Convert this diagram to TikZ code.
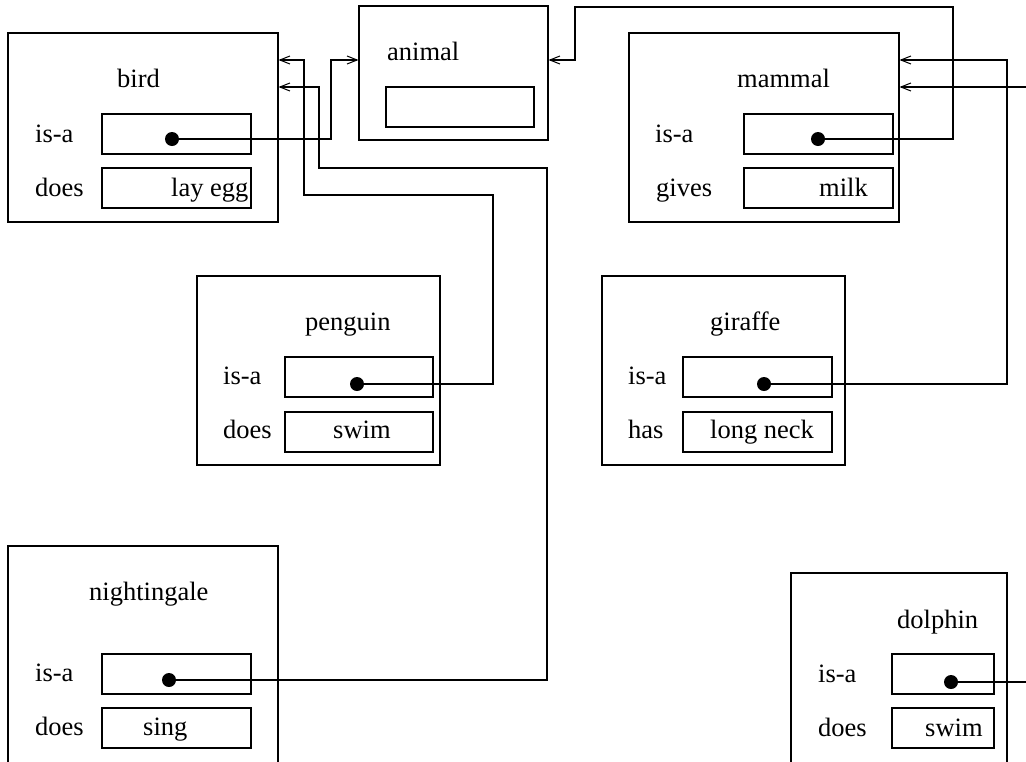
\documentclass[tikz,border=0pt]{standalone}
\usepackage{fontspec}
\setmainfont{Liberation Serif}
\usetikzlibrary{arrows.meta}
\begin{document}
\begin{tikzpicture}[x=1pt,y=-1pt,
  frame/.style={draw,line width=1.2pt,inner sep=0pt,rectangle},
  slot/.style={draw,line width=1.1pt,inner sep=0pt,rectangle},
  lbl/.style={anchor=base west,inner sep=0pt,font=\fontsize{26.5}{30}\selectfont},
  dot/.style={circle,fill,inner sep=0pt,minimum size=14pt},
  link/.style={line width=1.2pt},
  arr/.style={link,-{Straight Barb[length=10pt,width=8pt,line width=1pt]}}]
\useasboundingbox (0,0) rectangle (1026,761);
\clip (0,0) rectangle (1026,761);
% frames
\node[frame,minimum width=270pt,minimum height=189pt] (bird) at (143,127.5) {};
\node[frame,minimum width=189pt,minimum height=134pt] (animal) at (453.5,73) {};
\node[frame,minimum width=270pt,minimum height=189pt] (mammal) at (764,127.5) {};
\node[frame,minimum width=243pt,minimum height=189pt] (penguin) at (318.5,370.5) {};
\node[frame,minimum width=243pt,minimum height=189pt] (giraffe) at (723.5,370.5) {};
\node[frame,minimum width=270pt,minimum height=254pt] (nightingale) at (143,673) {};
\node[frame,minimum width=216pt,minimum height=227pt] (dolphin) at (899,686.5) {};
% slots
\node[slot,minimum width=149pt,minimum height=40pt] (birdisa) at (176.5,134) {};
\node[slot,minimum width=149pt,minimum height=40pt] (birddoes) at (176.5,188) {};
\node[slot,minimum width=148pt,minimum height=40pt] (animalslot) at (460,107) {};
\node[slot,minimum width=149pt,minimum height=40pt] (mammalisa) at (818.5,134) {};
\node[slot,minimum width=149pt,minimum height=40pt] (mammalgives) at (818.5,188) {};
\node[slot,minimum width=148pt,minimum height=40pt] (penguinisa) at (359,377) {};
\node[slot,minimum width=148pt,minimum height=40pt] (penguindoes) at (359,432) {};
\node[slot,minimum width=149pt,minimum height=40pt] (giraffeisa) at (757.5,377) {};
\node[slot,minimum width=149pt,minimum height=40pt] (giraffehas) at (757.5,432) {};
\node[slot,minimum width=149pt,minimum height=40pt] (nightisa) at (176.5,674) {};
\node[slot,minimum width=149pt,minimum height=40pt] (nightdoes) at (176.5,728) {};
\node[slot,minimum width=102pt,minimum height=40pt] (dolphinisa) at (943,674) {};
\node[slot,minimum width=102pt,minimum height=40pt] (dolphindoes) at (943,728) {};
% texts
\node[lbl] (t1) at (117,87) {bird};
\node[lbl] (t2) at (35,142) {is-a};
\node[lbl] (t3) at (35,196) {does};
\node[lbl] (t4) at (171,196) {lay egg};
\node[lbl] (t5) at (387,60) {animal};
\node[lbl] (t6) at (737,87) {mammal};
\node[lbl] (t7) at (655,142) {is-a};
\node[lbl] (t8) at (656,196) {gives};
\node[lbl] (t9) at (819,196) {milk};
\node[lbl] (t10) at (305,330) {penguin};
\node[lbl] (t11) at (223,384) {is-a};
\node[lbl] (t12) at (223,438) {does};
\node[lbl] (t13) at (333,438) {swim};
\node[lbl] (t14) at (710,330) {giraffe};
\node[lbl] (t15) at (628,384) {is-a};
\node[lbl] (t16) at (628,438) {has};
\node[lbl] (t17) at (710,438) {long neck};
\node[lbl] (t18) at (89,600) {nightingale};
\node[lbl] (t19) at (35,681) {is-a};
\node[lbl] (t20) at (35,735) {does};
\node[lbl] (t21) at (143,735) {sing};
\node[lbl] (t22) at (897,628) {dolphin};
\node[lbl] (t23) at (818,682) {is-a};
\node[lbl] (t24) at (818,736) {does};
\node[lbl] (t25) at (925,736) {swim};
% dots
\node[dot] (bdot) at (172,139) {};
\node[dot] (mdot) at (818,139) {};
\node[dot] (pdot) at (357,384) {};
\node[dot] (gdot) at (764,384) {};
\node[dot] (ndot) at (169,680) {};
\node[dot] (ddot) at (951,682) {};
% bend points
\coordinate (b1) at (331,60);
\coordinate (m1) at (953,7);
\coordinate (m2) at (575,60);
\coordinate (p1) at (493,195);
\coordinate (p2) at (304,60);
\coordinate (n1) at (547,168);
\coordinate (n2) at (319,87);
\coordinate (g1) at (1007,60);
\coordinate (d1) at (1045,87);
% connectors
\draw[arr] (bdot.center) -| (b1) -- (animal.west |- b1);
\draw[arr] (mdot.center) -| (m1) -| (m2) -- (animal.east |- m2);
\draw[arr] (pdot.center) -| (p1) -| (p2) -- (bird.east |- p2);
\draw[arr] (ndot.center) -| (n1) -| (n2) -- (bird.east |- n2);
\draw[arr] (gdot.center) -| (g1) -- (mammal.east |- g1);
\draw[arr] (ddot.center) -| (d1) -- (mammal.east |- d1);
\end{tikzpicture}
\end{document}
